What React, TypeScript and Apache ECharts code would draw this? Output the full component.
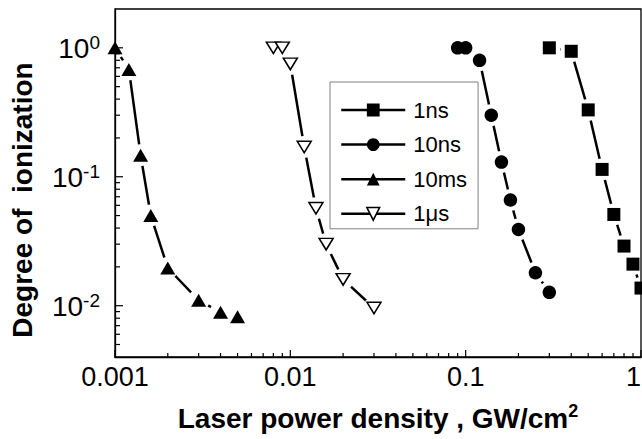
import React, { useEffect, useRef } from 'react';
import * as echarts from 'echarts';

const X_MIN = 0.001;
const X_MAX = 1;
const Y_MIN = 0.004;
const Y_MAX = 2;

const seriesNames = ['1ns', '10ns', '10ms', '1μs'];

const x1ns = [0.3, 0.4, 0.5, 0.6, 0.7, 0.8, 0.9, 1.0];
const y1ns = [1.0, 0.94, 0.33, 0.114, 0.051, 0.029, 0.021, 0.0137];

const x10ns = [0.09, 0.1, 0.12, 0.14, 0.16, 0.18, 0.2, 0.25, 0.3];
const y10ns = [1.0, 1.0, 0.8, 0.3, 0.13, 0.066, 0.039, 0.018, 0.0127];

const x10ms = [0.001, 0.0012, 0.0014, 0.0016, 0.002, 0.003, 0.004, 0.005];
const y10ms = [1.0, 0.68, 0.147, 0.05, 0.0196, 0.011, 0.0089, 0.0082];

const x1us = [0.008, 0.009, 0.01, 0.012, 0.014, 0.016, 0.02, 0.03];
const y1us = [1.0, 1.0, 0.75, 0.17, 0.057, 0.03, 0.016, 0.0096];

const FONT = "'Liberation Sans', Arial, sans-serif";
const INV_TRI = 'path://M0,0 L20,0 L10,17 Z';

const pts = (xs: number[], ys: number[]) => xs.map((x, i) => [x, ys[i]]);

const defs = [
  { name: seriesNames[0], data: pts(x1ns, y1ns), symbol: 'rect', size: 13, fill: '#000', bw: 0 },
  { name: seriesNames[1], data: pts(x10ns, y10ns), symbol: 'circle', size: 13.5, fill: '#000', bw: 0 },
  { name: seriesNames[2], data: pts(x10ms, y10ms), symbol: 'triangle', size: [15, 13], fill: '#000', bw: 0 },
  { name: seriesNames[3], data: pts(x1us, y1us), symbol: INV_TRI, size: [14, 11.5], fill: '#fff', bw: 1.5 },
];

const isPow10 = (v: number) => {
  const e = Math.log10(v);
  const r = Math.round(e);
  return Math.abs(e - r) < 1e-6 ? r : null;
};

const fmtX = (v: number) => {
  const r = isPow10(v);
  if (r === null) return '';
  return r < 0 ? Number(v).toFixed(-r) : String(Math.round(v));
};

const fmtY = (v: number) => {
  const r = isPow10(v);
  if (r === null) return '';
  return `{b|10}{s|${r}}`;
};

// tick positions (axis structure)
const xTicks: number[][] = [];
for (const d of [0.001, 0.01, 0.1]) {
  xTicks.push([d, Y_MIN, 1]);
  for (let m = 2; m <= 9; m++) xTicks.push([d * m, Y_MIN, 0]);
}
xTicks.push([1, Y_MIN, 1]);

const yTicks: number[][] = [];
for (const d of [0.001, 0.01, 0.1, 1]) {
  for (let m = 1; m <= 9; m++) {
    const v = d * m;
    if (v > Y_MIN * 1.0001 && v < Y_MAX * 0.9999) yTicks.push([X_MIN, v, m === 1 ? 1 : 0]);
  }
}

export default function App() {
  const ref = useRef<HTMLDivElement>(null);
  useEffect(() => {
    const chart = echarts.init(ref.current!, null, { renderer: 'svg' });
    const option: any = {
      animation: false,
      backgroundColor: '#fff',
      textStyle: { fontFamily: FONT, color: '#000' },
      grid: {
        left: 115, right: 1, top: 9, bottom: 82,
        show: true, borderColor: '#000', borderWidth: 1.3,
        backgroundColor: 'transparent', z: 3,
        containLabel: false, outerBoundsMode: 'none',
      },
      legend: {
        orient: 'vertical', left: 330, top: 82,
        padding: [16, 11, 3, 10],
        itemWidth: 64, itemHeight: 16, itemGap: 10.6,
        backgroundColor: '#fff', borderColor: '#808080', borderWidth: 1,
        textStyle: { fontSize: 22, color: '#000', lineHeight: 24, fontFamily: FONT, padding: [0, 0, 0, 3] },
        lineStyle: { color: '#000', width: 2.5 },
        selectedMode: false,
        z: 6,
        data: defs.map((d) => ({
          name: d.name,
          itemStyle: { color: d.fill, borderColor: '#000', borderWidth: d.bw },
        })),
      },
      xAxis: {
        type: 'log', logBase: 10, min: X_MIN, max: X_MAX, z: 3,
        axisLine: { show: true, onZero: false, lineStyle: { color: '#000', width: 1.3 } },
        axisTick: { show: false }, minorTick: { show: false }, splitLine: { show: false },
        axisLabel: { formatter: fmtX, fontSize: 27, color: '#000', fontFamily: FONT, margin: 6, alignMaxLabel: 'right' },
        name: '{t|Laser power density , GW/cm}{s|2}',
        nameLocation: 'middle', nameGap: 45,
        nameTextStyle: {
          rich: {
            t: { fontSize: 28, fontWeight: 'bold', fontFamily: FONT, color: '#000', lineHeight: 30, padding: [9, 0, 0, 0], verticalAlign: 'bottom' },
            s: { fontSize: 18, fontWeight: 'bold', fontFamily: FONT, color: '#000', lineHeight: 18, verticalAlign: 'top' },
          },
        },
      },
      yAxis: {
        type: 'log', logBase: 10, min: Y_MIN, max: Y_MAX, z: 3,
        axisLine: { show: true, onZero: false, lineStyle: { color: '#000', width: 1.3 } },
        axisTick: { show: false }, minorTick: { show: false }, splitLine: { show: false },
        axisLabel: {
          formatter: fmtY, margin: 15,
          rich: {
            b: { fontSize: 28, fontFamily: FONT, color: '#000', lineHeight: 30, padding: [5, 0, 0, 0], verticalAlign: 'bottom' },
            s: { fontSize: 19, fontFamily: FONT, color: '#000', lineHeight: 19, verticalAlign: 'top' },
          },
        },
        name: 'Degree of  ionization',
        nameLocation: 'middle', nameGap: 79,
        nameTextStyle: { fontSize: 28, fontWeight: 'bold', fontFamily: FONT, color: '#000', padding: [0, 34, 0, 0] },
      },
      series: [
        ...defs.map((d) => ({
          type: 'line', name: d.name, data: d.data,
          symbol: d.symbol, symbolSize: d.size, showSymbol: false,
          lineStyle: { color: '#000', width: 2.5 },
          itemStyle: { color: d.fill, borderColor: '#000', borderWidth: d.bw },
          z: 1, silent: true, clip: false,
        })),
        ...defs.map((d) => ({
          type: 'scatter', name: 'mask-' + d.name, data: d.data,
          symbol: 'circle', symbolSize: 22,
          itemStyle: { color: '#fff', opacity: 1 },
          z: 2, silent: true, clip: false,
        })),
        ...defs.map((d) => ({
          type: 'scatter', name: d.name, data: d.data,
          symbol: d.symbol, symbolSize: d.size,
          itemStyle: { color: d.fill, borderColor: '#000', borderWidth: d.bw, opacity: 1 },
          z: 4, silent: true, clip: false,
        })),
        {
          type: 'custom', name: 'xticks', data: xTicks, z: 3, silent: true, clip: false,
          renderItem: (_p: any, api: any) => {
            const p = api.coord([api.value(0), api.value(1)]);
            const len = api.value(2) ? 7 : 4;
            return { type: 'line', shape: { x1: p[0], y1: p[1], x2: p[0], y2: p[1] - len }, style: { stroke: '#000', lineWidth: 1.2 } };
          },
        },
        {
          type: 'custom', name: 'yticks', data: yTicks, z: 3, silent: true, clip: false,
          renderItem: (_p: any, api: any) => {
            const p = api.coord([api.value(0), api.value(1)]);
            const len = api.value(2) ? 8 : 5;
            return { type: 'line', shape: { x1: p[0], y1: p[1], x2: p[0] + len, y2: p[1] }, style: { stroke: '#000', lineWidth: 1.2 } };
          },
        },
      ],
    };
    chart.setOption(option);
    return () => chart.dispose();
  }, []);
  return <div ref={ref} style={{ width: 642, height: 439, position: 'absolute', left: 0, top: 0 }} />;
}
